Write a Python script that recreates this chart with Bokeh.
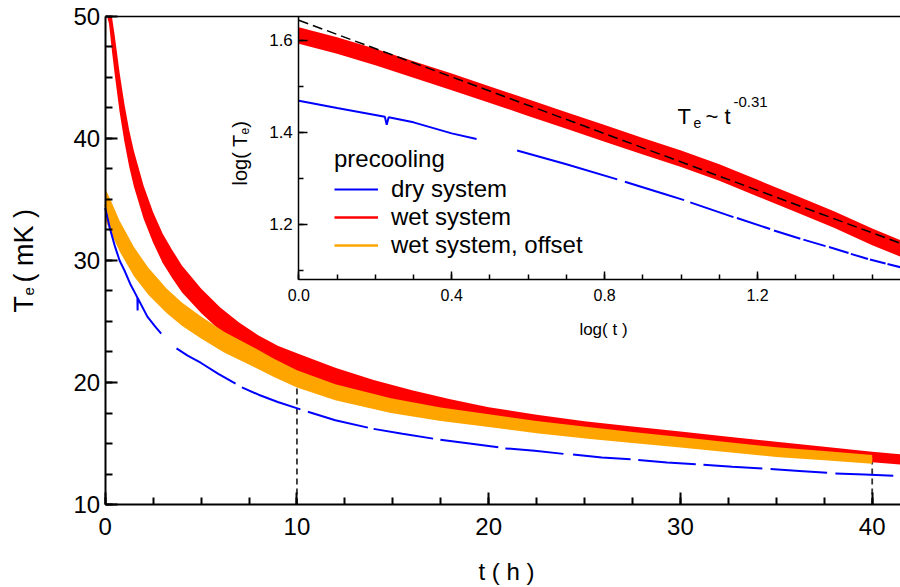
import numpy as np
from bokeh.plotting import figure
from bokeh.models import (Range1d, LinearAxis, SingleIntervalTicker, PrintfTickFormatter,
                          FixedTicker, Label, Legend, LegendItem)
from bokeh.embed import file_html
from bokeh.resources import INLINE

nan = np.nan
FONT = "Liberation Sans"

# ---------------- main panel data: t (h) vs T_e (mK) ----------------
t_red = [0.1, 0.2, 0.35, 0.5, 0.75, 1.0, 1.25, 1.5, 2.0, 2.5, 3.0, 3.5, 4.0, 5.0, 6.0, 7.0,
         8.0, 9.0, 10.0, 12.0, 14.0, 16.0, 18.0, 20.0, 22.5, 25.0, 27.5, 30.0, 32.5, 35.0,
         37.5, 40.0, 41.5]
T_red = [54.0, 51.0, 48.8, 46.8, 43.8, 41.3, 39.2, 37.5, 34.8, 32.7, 31.0, 29.7, 28.5, 26.7,
         25.2, 24.0, 23.0, 22.2, 21.6, 20.45, 19.5, 18.7, 18.0, 17.4, 16.8, 16.3, 15.9, 15.5,
         15.1, 14.7, 14.3, 13.9, 13.7]
noise_red = [1.6, 1.6, 1.6, 1.6, 1.6, 1.55, 1.5, 1.45, 1.35, 1.25, 1.2, 1.15, 1.1, 1.0, 0.95,
             0.9, 0.85, 0.82, 0.8, 0.75, 0.7, 0.66, 0.62, 0.58, 0.55, 0.52, 0.5, 0.48, 0.46,
             0.45, 0.44, 0.43, 0.42]

t_orange = [0.0, 0.3, 0.75, 1.5, 2.25, 3.2, 4.0, 5.0, 6.2, 7.6, 8.8, 10.0, 12.0, 14.9, 17.5,
            20.1, 22.5, 25.3, 27.5, 30.0, 32.5, 35.0, 37.5, 40.0]
T_orange = [34.6, 33.6, 32.0, 29.9, 28.3, 26.7, 25.6, 24.5, 23.3, 22.2, 21.2, 20.3, 19.2, 18.1,
            17.4, 16.85, 16.35, 15.85, 15.5, 15.1, 14.7, 14.3, 14.0, 13.7]
noise_orange = [1.3, 1.3, 1.25, 1.2, 1.1, 1.0, 0.95, 0.9, 0.85, 0.8, 0.75, 0.7, 0.66, 0.6, 0.56,
                0.52, 0.5, 0.48, 0.45, 0.43, 0.41, 0.4, 0.38, 0.36]

t_blue = [0.0, 0.25, 0.5, 0.75, 1.0, 1.3, 1.6, 1.68, 1.69, 1.7, 2.2, 2.6, 2.92, nan,
          3.72, 4.3, 5.0, 5.9, 6.8, nan, 7.13, 8.0, 9.0, 10.18, nan, 10.57, 12.0, 13.7, nan,
          14.0, 15.5, 17.1, nan, 17.48, 19.0, 20.5, nan, 20.87, 22.4, 23.9, nan,
          24.4, 25.9, 27.4, nan, 27.8, 29.3, 30.8, nan, 31.2, 32.7, 34.27, nan,
          34.7, 36.2, 37.65, nan, 38.08, 39.6, 41.1]
T_blue = [34.3, 32.6, 31.2, 30.0, 29.2, 28.1, 27.2, 26.95, 25.9, 26.9, 25.4, 24.6, 24.0, nan,
          22.8, 22.2, 21.6, 20.7, 19.9, nan, 19.6, 19.0, 18.4, 17.8, nan, 17.6, 16.9, 16.3, nan,
          16.2, 15.8, 15.4, nan, 15.3, 15.0, 14.7, nan, 14.6, 14.4, 14.15, nan,
          14.1, 13.85, 13.7, nan, 13.65, 13.45, 13.3, nan, 13.25, 13.1, 12.95, nan,
          12.9, 12.75, 12.6, nan, 12.55, 12.45, 12.35]

marker_t = [10.0, 40.0]
marker_top = [19.6, 13.6]

# ---------------- inset data: log(t) vs log(T_e) ----------------
lt_red = [0.0, 0.1, 0.2, 0.3, 0.4, 0.5, 0.6, 0.7, 0.8, 0.9, 1.0, 1.1, 1.2, 1.3, 1.4, 1.5, 1.574]
logT_red = [1.610, 1.588, 1.563, 1.536, 1.509, 1.481, 1.453, 1.425, 1.397, 1.369, 1.342, 1.312,
            1.278, 1.244, 1.210, 1.172, 1.147]
log_noise_red = 0.018

lt_blue = [0.0, 0.1, 0.2, 0.225, 0.23, 0.235, 0.3, 0.4, 0.465, nan, 0.571, 0.7, 0.833, nan,
           0.853, 0.95, 1.008, nan, 1.024, 1.137, nan, 1.146, 1.233, nan, 1.243, 1.312, nan,
           1.320, 1.378, nan, 1.387, 1.438, nan, 1.444, 1.489, nan, 1.494, 1.535, nan,
           1.540, 1.574]
logT_blue = [1.468, 1.452, 1.437, 1.433, 1.416, 1.432, 1.421, 1.397, 1.385, nan, 1.360, 1.330,
             1.297, nan, 1.292, 1.267, 1.252, nan, 1.247, 1.215, nan, 1.213, 1.189, nan, 1.186,
             1.168, nan, 1.166, 1.152, nan, 1.150, 1.137, nan, 1.135, 1.124, nan, 1.123, 1.114,
             nan, 1.113, 1.106]

fit_lt = [0.0, 1.574]
fit_logT = [1.643, 1.158]

BLUE, RED, ORANGE = "#0000ff", "#ff0000", "#ffa500"

# axis extents
T_MIN, T_MAX = 10, 50
t_MAX = 41.476
LT_MAX = 1.574
LOGT_BOTTOM, LOGT_TOP = 1.080, 1.6511

# the frame fills the whole canvas; the axes are placed with fixed_location
p = figure(width=900, height=587, output_backend="svg", toolbar_location=None,
           x_range=Range1d(-5.460, t_MAX), y_range=Range1d(3.197, 51.311),
           x_axis_type=None, y_axis_type=None,
           min_border_left=0, min_border_right=0, min_border_top=0, min_border_bottom=0)
p.outline_line_color = None
p.background_fill_color = "white"
p.border_fill_color = "white"
p.extra_x_ranges = {"ix": Range1d(-0.7804, LT_MAX)}
p.extra_y_ranges = {"iy": Range1d(0.4098, 1.6859)}


def style(ax, size, tick_in, minor_in, lw):
    ax.axis_line_color = "black"
    ax.axis_line_width = lw
    ax.major_tick_in = tick_in
    ax.major_tick_out = 0
    ax.minor_tick_in = minor_in
    ax.minor_tick_out = 0
    ax.major_tick_line_color = "black"
    ax.minor_tick_line_color = "black"
    ax.major_tick_line_width = lw
    ax.minor_tick_line_width = lw
    ax.major_label_text_font = FONT
    ax.major_label_text_font_size = size
    ax.major_label_text_color = "black"


# main axes
xa = LinearAxis(fixed_location=T_MIN, bounds=(0, t_MAX),
                ticker=SingleIntervalTicker(interval=10, num_minor_ticks=4))
style(xa, "24px", 12, 7, 2)
xa.major_label_standoff = 13
p.add_layout(xa, "below")
ya = LinearAxis(fixed_location=0, bounds=(T_MIN, T_MAX),
                ticker=SingleIntervalTicker(interval=10, num_minor_ticks=4))
style(ya, "24px", 12, 7, 2)
ya.major_label_standoff = 5
p.add_layout(ya, "left")
top = LinearAxis(fixed_location=T_MAX, bounds=(0, t_MAX), ticker=FixedTicker(ticks=[]),
                 major_label_text_font_size="0px")
top.axis_line_width = 1.5
top.major_tick_in = 0
top.major_tick_out = 0
p.add_layout(top, "above")

# inset axes
ixa = LinearAxis(x_range_name="ix", y_range_name="iy", fixed_location=LOGT_BOTTOM,
                 bounds=(0, LT_MAX),
                 ticker=SingleIntervalTicker(interval=0.4, num_minor_ticks=4),
                 formatter=PrintfTickFormatter(format="%.1f"))
style(ixa, "16px", 8, 5, 1.5)
ixa.major_label_standoff = 10
p.add_layout(ixa, "below")
iya = LinearAxis(x_range_name="ix", y_range_name="iy", fixed_location=0.0,
                 bounds=(LOGT_BOTTOM, LOGT_TOP),
                 ticker=SingleIntervalTicker(interval=0.2, num_minor_ticks=2),
                 formatter=PrintfTickFormatter(format="%.1f"))
style(iya, "17px", 9, 5, 1.5)
iya.major_label_standoff = 6
p.add_layout(iya, "left")

# vertical markers
p.segment(x0=marker_t, y0=[T_MIN] * len(marker_t), x1=marker_t, y1=marker_top,
          line_color="#333333", line_width=1.8, line_dash="6 4")

# main curves (bands clipped at the top of the axes)
r_lo = np.minimum(np.array(T_red) - np.array(noise_red), T_MAX)
r_hi = np.minimum(np.array(T_red) + np.array(noise_red), T_MAX)
p.varea(x=t_red, y1=r_lo, y2=r_hi, fill_color=RED)
red_r = p.line(t_red[2:], T_red[2:], line_color=RED, line_width=2.5)
o_lo = np.array(T_orange) - np.array(noise_orange)
o_hi = np.array(T_orange) + np.array(noise_orange)
p.varea(x=t_orange, y1=o_lo, y2=o_hi, fill_color=ORANGE)
orange_r = p.line(t_orange, T_orange, line_color=ORANGE, line_width=2.5)
blue_r = p.line(t_blue, T_blue, line_color=BLUE, line_width=2)

# inset curves
p.line(lt_blue, logT_blue, x_range_name="ix", y_range_name="iy", line_color=BLUE, line_width=2)
p.varea(x=lt_red, y1=[v - log_noise_red for v in logT_red],
        y2=[v + log_noise_red for v in logT_red],
        x_range_name="ix", y_range_name="iy", fill_color=RED)
p.line(fit_lt, fit_logT, x_range_name="ix", y_range_name="iy", line_color="black",
       line_width=1.5, line_dash="10 5")

# legend
leg = Legend(items=[LegendItem(label="dry system", renderers=[blue_r]),
                    LegendItem(label="wet system", renderers=[red_r]),
                    LegendItem(label="wet system, offset", renderers=[orange_r])],
             title="precooling", location=(334, 328))
leg.title_text_font = FONT
leg.title_text_font_size = "24px"
leg.title_text_font_style = "normal"
leg.title_text_color = "black"
leg.label_text_font = FONT
leg.label_text_font_size = "24px"
leg.label_text_color = "black"
leg.glyph_width = 44
leg.glyph_height = 20
leg.label_standoff = 13
leg.spacing = 0
leg.padding = 0
leg.margin = 0
leg.title_standoff = 2
leg.border_line_color = None
leg.background_fill_alpha = 0
p.add_layout(leg)


def lab(text, x, y, size, angle=0.0, align="left", rx="default", ry="default"):
    p.add_layout(Label(x=x, y=y, text=text, x_range_name=rx, y_range_name=ry, angle=angle,
                       text_font=FONT, text_font_size=size, text_color="black",
                       text_align=align, text_baseline="alphabetic"))


# main axis titles
lab("t ( h )", 20.93, 4.50, "24px", align="center")
lab("T", -4.240, 25.74, "27px", angle=np.pi / 2)
lab("e", -3.989, 27.13, "15px", angle=np.pi / 2)
lab("( mK )", -4.240, 28.20, "27px", angle=np.pi / 2)

# inset axis titles
lab("log( t )", 0.797, 0.9715, "17px", align="center", rx="ix", ry="iy")
lab("log( T", -0.1535, 1.2837, "20px", angle=np.pi / 2, rx="ix", ry="iy")
lab("e", -0.1415, 1.3946, "12px", angle=np.pi / 2, rx="ix", ry="iy")
lab(" )", -0.1535, 1.4091, "20px", angle=np.pi / 2, rx="ix", ry="iy")

# power-law annotation
lab("T", 0.9907, 1.4337, "22px", rx="ix", ry="iy")
lab("e", 1.0325, 1.4196, "14px", rx="ix", ry="iy")
lab("~ t", 1.0640, 1.4337, "22px", rx="ix", ry="iy")
lab("-0.31", 1.1372, 1.4658, "15px", rx="ix", ry="iy")

open("out.html", "w").write(file_html(p, INLINE))
